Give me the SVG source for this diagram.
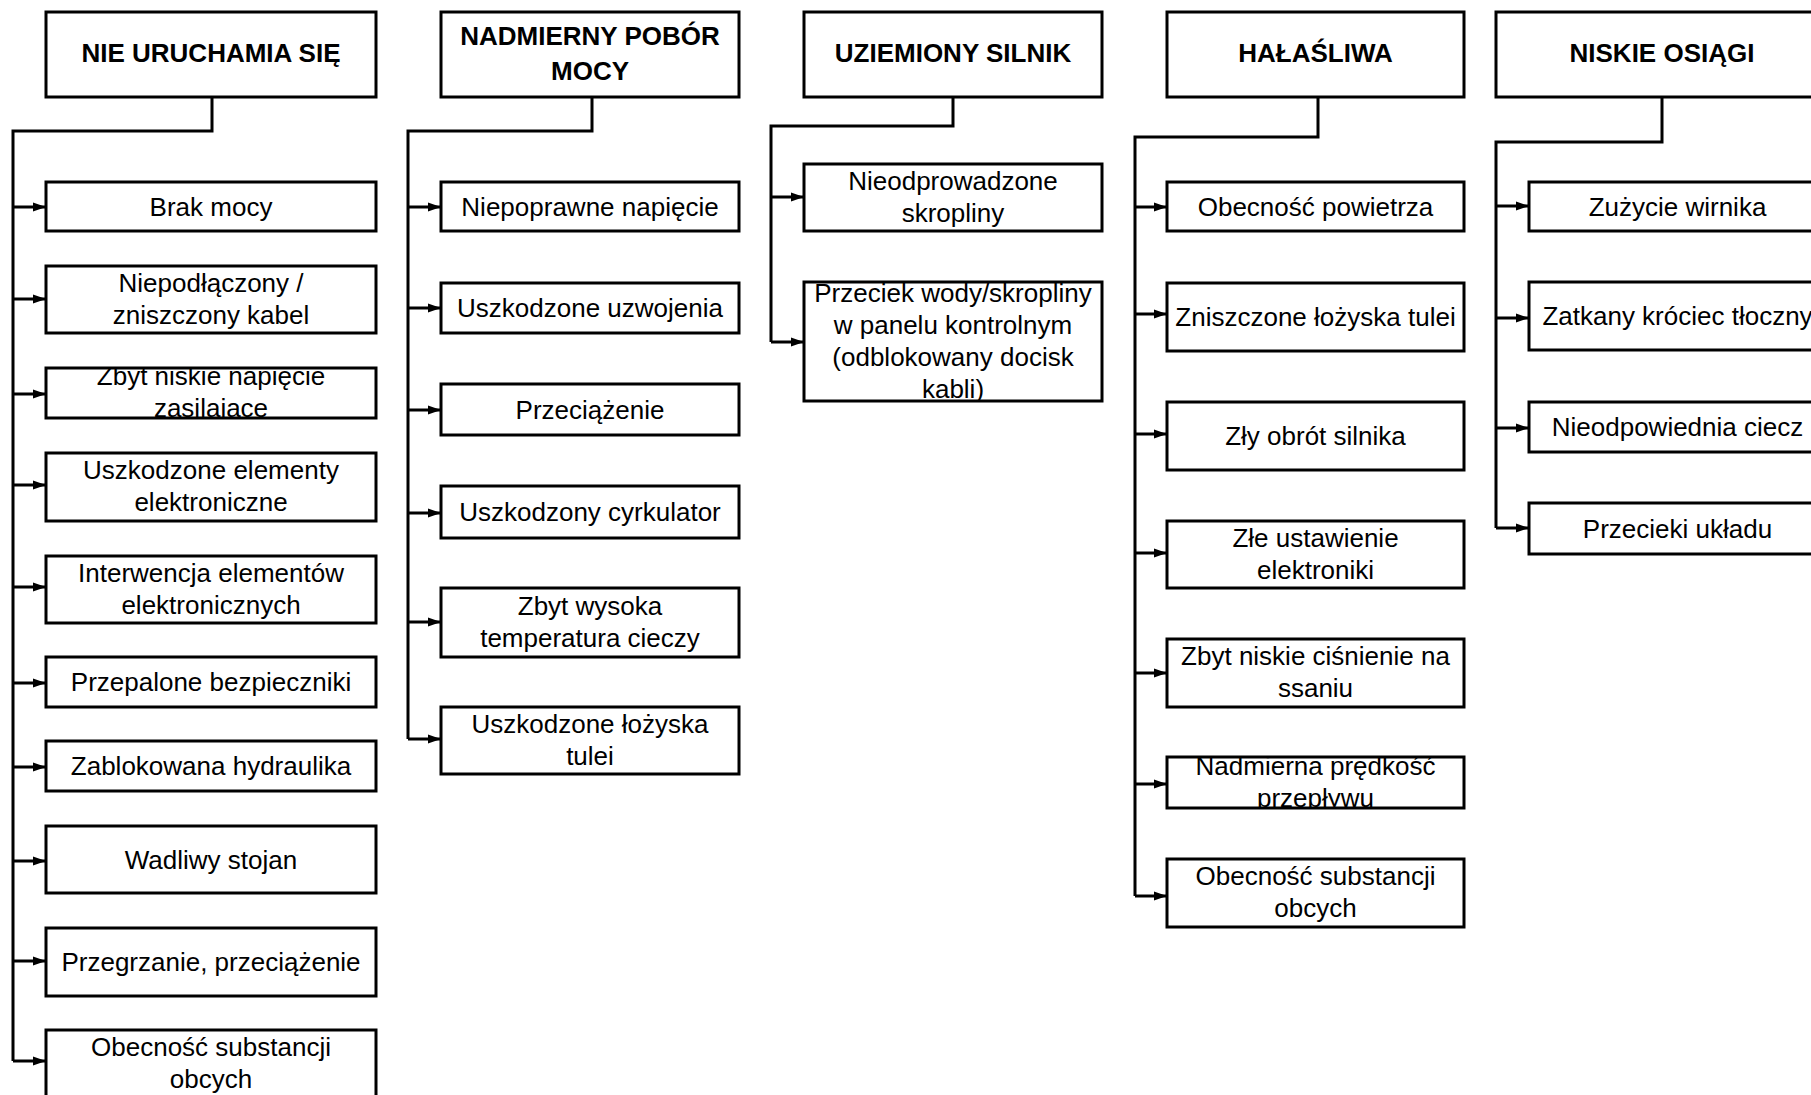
<svg xmlns="http://www.w3.org/2000/svg" width="1811" height="1095" viewBox="0 0 1811 1095">
<style>
  .box { fill: none; stroke: #000; stroke-width: 3; }
  .t { font-family: "Liberation Sans", Arial, Helvetica, sans-serif; font-size: 26px; fill: #000; text-anchor: middle; }
  .h { font-family: "Liberation Sans", Arial, Helvetica, sans-serif; font-size: 26px; font-weight: bold; fill: #000; text-anchor: middle; }
  .wire { fill: none; stroke: #000; stroke-width: 3; }
  .arr { fill: none; stroke: #000; stroke-width: 3; marker-end: url(#ah); }
</style>
<defs>
  <marker id="ah" markerUnits="userSpaceOnUse" markerWidth="14" markerHeight="10" refX="13" refY="5" orient="auto">
    <path d="M0,0.5 L13,5 L0,9.5 z" fill="#000"/>
  </marker>
  <clipPath id="c1"><rect x="46" y="368" width="330" height="50"/></clipPath>
  <clipPath id="c2"><rect x="804" y="282" width="298" height="119"/></clipPath>
  <clipPath id="c3"><rect x="1167" y="757" width="297" height="51"/></clipPath>
</defs>
<rect x="0" y="0" width="1811" height="1095" fill="#fff"/>

<g id="connectors">
  <!-- column 1 -->
  <path class="wire" d="M212,97 V131 H13 V1061"/>
  <path class="arr" d="M13,207 H46"/>
  <path class="arr" d="M13,299 H46"/>
  <path class="arr" d="M13,394 H46"/>
  <path class="arr" d="M13,485 H46"/>
  <path class="arr" d="M13,587 H46"/>
  <path class="arr" d="M13,683 H46"/>
  <path class="arr" d="M13,767 H46"/>
  <path class="arr" d="M13,861 H46"/>
  <path class="arr" d="M13,961 H46"/>
  <path class="arr" d="M13,1061 H46"/>
  <!-- column 2 -->
  <path class="wire" d="M592,97 V131 H408 V739"/>
  <path class="arr" d="M408,207 H441"/>
  <path class="arr" d="M408,308 H441"/>
  <path class="arr" d="M408,410 H441"/>
  <path class="arr" d="M408,513 H441"/>
  <path class="arr" d="M408,622 H441"/>
  <path class="arr" d="M408,739 H441"/>
  <!-- column 3 -->
  <path class="wire" d="M953,97 V126 H771 V342"/>
  <path class="arr" d="M771,197 H804"/>
  <path class="arr" d="M771,342 H804"/>
  <!-- column 4 -->
  <path class="wire" d="M1318,97 V137 H1135 V896"/>
  <path class="arr" d="M1135,207 H1167"/>
  <path class="arr" d="M1135,314 H1167"/>
  <path class="arr" d="M1135,434 H1167"/>
  <path class="arr" d="M1135,553 H1167"/>
  <path class="arr" d="M1135,673 H1167"/>
  <path class="arr" d="M1135,784 H1167"/>
  <path class="arr" d="M1135,896 H1167"/>
  <!-- column 5 -->
  <path class="wire" d="M1662,97 V142 H1496 V528"/>
  <path class="arr" d="M1496,206 H1529"/>
  <path class="arr" d="M1496,318 H1529"/>
  <path class="arr" d="M1496,428 H1529"/>
  <path class="arr" d="M1496,528 H1529"/>
</g>

<!-- Column 1 -->
<g id="h1"><text class="h" x="211" y="62">NIE URUCHAMIA SIĘ</text><rect class="box" x="46" y="12" width="330" height="85"/></g>
<g id="n1_1"><text class="t" x="211" y="215.5">Brak mocy</text><rect class="box" x="46" y="182" width="330" height="49"/></g>
<g id="n1_2"><text class="t" x="211" y="291.5">Niepodłączony /</text><text class="t" x="211" y="323.5">zniszczony kabel</text><rect class="box" x="46" y="266" width="330" height="67"/></g>
<g id="n1_3"><g clip-path="url(#c1)"><text class="t" x="211" y="385">Zbyt niskie napięcie</text><text class="t" x="211" y="417">zasilające</text></g><rect class="box" x="46" y="368" width="330" height="50"/></g>
<g id="n1_4"><text class="t" x="211" y="479">Uszkodzone elementy</text><text class="t" x="211" y="511">elektroniczne</text><rect class="box" x="46" y="453" width="330" height="68"/></g>
<g id="n1_5"><text class="t" x="211" y="581.5">Interwencja elementów</text><text class="t" x="211" y="613.5">elektronicznych</text><rect class="box" x="46" y="556" width="330" height="67"/></g>
<g id="n1_6"><text class="t" x="211" y="691">Przepalone bezpieczniki</text><rect class="box" x="46" y="657" width="330" height="50"/></g>
<g id="n1_7"><text class="t" x="211" y="775">Zablokowana hydraulika</text><rect class="box" x="46" y="741" width="330" height="50"/></g>
<g id="n1_8"><text class="t" x="211" y="868.5">Wadliwy stojan</text><rect class="box" x="46" y="826" width="330" height="67"/></g>
<g id="n1_9"><text class="t" x="211" y="971">Przegrzanie, przeciążenie</text><rect class="box" x="46" y="928" width="330" height="68"/></g>
<g id="n1_10"><text class="t" x="211" y="1055.5">Obecność substancji</text><text class="t" x="211" y="1087.5">obcych</text><rect class="box" x="46" y="1030" width="330" height="67"/></g>

<!-- Column 2 -->
<g id="h2"><text class="h" x="590" y="45">NADMIERNY POBÓR</text><text class="h" x="590" y="80">MOCY</text><rect class="box" x="441" y="12" width="298" height="85"/></g>
<g id="n2_1"><text class="t" x="590" y="215.5">Niepoprawne napięcie</text><rect class="box" x="441" y="182" width="298" height="49"/></g>
<g id="n2_2"><text class="t" x="590" y="317">Uszkodzone uzwojenia</text><rect class="box" x="441" y="283" width="298" height="50"/></g>
<g id="n2_3"><text class="t" x="590" y="418.5">Przeciążenie</text><rect class="box" x="441" y="384" width="298" height="51"/></g>
<g id="n2_4"><text class="t" x="590" y="521">Uszkodzony cyrkulator</text><rect class="box" x="441" y="486" width="298" height="52"/></g>
<g id="n2_5"><text class="t" x="590" y="614.5">Zbyt wysoka</text><text class="t" x="590" y="646.5">temperatura cieczy</text><rect class="box" x="441" y="588" width="298" height="69"/></g>
<g id="n2_6"><text class="t" x="590" y="732.5">Uszkodzone łożyska</text><text class="t" x="590" y="764.5">tulei</text><rect class="box" x="441" y="707" width="298" height="67"/></g>

<!-- Column 3 -->
<g id="h3"><text class="h" x="953" y="62">UZIEMIONY SILNIK</text><rect class="box" x="804" y="12" width="298" height="85"/></g>
<g id="n3_1"><text class="t" x="953" y="189.5">Nieodprowadzone</text><text class="t" x="953" y="221.5">skropliny</text><rect class="box" x="804" y="164" width="298" height="67"/></g>
<g id="n3_2"><g clip-path="url(#c2)"><text class="t" x="953" y="301.5">Przeciek wody/skropliny</text><text class="t" x="953" y="333.5">w panelu kontrolnym</text><text class="t" x="953" y="365.5">(odblokowany docisk</text><text class="t" x="953" y="397.5">kabli)</text></g><rect class="box" x="804" y="282" width="298" height="119"/></g>

<!-- Column 4 -->
<g id="h4"><text class="h" x="1315.5" y="62">HAŁAŚLIWA</text><rect class="box" x="1167" y="12" width="297" height="85"/></g>
<g id="n4_1"><text class="t" x="1315.5" y="215.5">Obecność powietrza</text><rect class="box" x="1167" y="182" width="297" height="49"/></g>
<g id="n4_2"><text class="t" x="1315.5" y="326">Zniszczone łożyska tulei</text><rect class="box" x="1167" y="283" width="297" height="68"/></g>
<g id="n4_3"><text class="t" x="1315.5" y="445">Zły obrót silnika</text><rect class="box" x="1167" y="402" width="297" height="68"/></g>
<g id="n4_4"><text class="t" x="1315.5" y="546.5">Złe ustawienie</text><text class="t" x="1315.5" y="578.5">elektroniki</text><rect class="box" x="1167" y="521" width="297" height="67"/></g>
<g id="n4_5"><text class="t" x="1315.5" y="665">Zbyt niskie ciśnienie na</text><text class="t" x="1315.5" y="697">ssaniu</text><rect class="box" x="1167" y="639" width="297" height="68"/></g>
<g id="n4_6"><g clip-path="url(#c3)"><text class="t" x="1315.5" y="774.5">Nadmierna prędkość</text><text class="t" x="1315.5" y="806.5">przepływu</text></g><rect class="box" x="1167" y="757" width="297" height="51"/></g>
<g id="n4_7"><text class="t" x="1315.5" y="885">Obecność substancji</text><text class="t" x="1315.5" y="917">obcych</text><rect class="box" x="1167" y="859" width="297" height="68"/></g>

<!-- Column 5 -->
<g id="h5"><text class="h" x="1662" y="62">NISKIE OSIĄGI</text><rect class="box" x="1496" y="12" width="332" height="85"/></g>
<g id="n5_1"><text class="t" x="1677.5" y="215.5">Zużycie wirnika</text><rect class="box" x="1529" y="182" width="297" height="49"/></g>
<g id="n5_2"><text class="t" x="1677.5" y="325">Zatkany króciec tłoczny</text><rect class="box" x="1529" y="282" width="297" height="68"/></g>
<g id="n5_3"><text class="t" x="1677.5" y="436">Nieodpowiednia ciecz</text><rect class="box" x="1529" y="402" width="297" height="50"/></g>
<g id="n5_4"><text class="t" x="1677.5" y="537.5">Przecieki układu</text><rect class="box" x="1529" y="503" width="297" height="51"/></g>
</svg>
